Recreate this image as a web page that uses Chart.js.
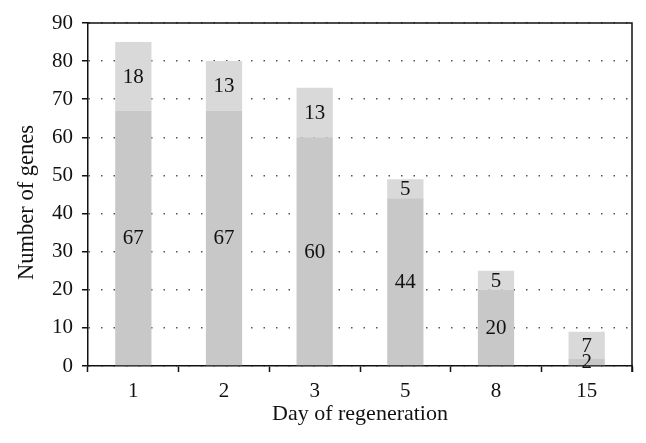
<!DOCTYPE html>
<html>
<head>
<meta charset="utf-8">
<script src="https://cdn.jsdelivr.net/npm/chart.js@4"></script>
<style>
  html, body { margin: 0; padding: 0; background: #fff; }
  #wrap { width: 646px; height: 443px; }
</style>
</head>
<body>
<div id="wrap"><canvas id="genesChart" width="646" height="443"></canvas></div>
<script>
const days = ['1', '2', '3', '5', '8', '15'];
const lowerCounts = [67, 67, 60, 44, 20, 2];
const upperCounts = [18, 13, 13, 5, 5, 7];
const yTicks = [0, 10, 20, 30, 40, 50, 60, 70, 80, 90];

const serif = "'Liberation Serif', 'DejaVu Serif', serif";

// numbers in the middle of each bar segment
const segmentLabels = {
    id: 'segmentLabels',
    afterDatasetsDraw(chart) {
        const ctx = chart.ctx;
        ctx.save();
        ctx.fillStyle = '#111';
        ctx.font = '21px ' + serif;
        ctx.textAlign = 'center';
        ctx.textBaseline = 'middle';
        chart.data.datasets.forEach((ds, i) => {
            chart.getDatasetMeta(i).data.forEach((bar, j) => {
                const midY = (bar.y + bar.base) / 2;
                ctx.fillText(String(ds.data[j]), bar.x, midY + 1);
            });
        });
        ctx.restore();
    }
};

// solid frame on top and right, plus the y title (sits a bit below centre in the original)
const frame = {
    id: 'frame',
    afterDraw(chart) {
        const a = chart.chartArea;
        const ctx = chart.ctx;
        ctx.save();
        ctx.strokeStyle = '#111';
        ctx.lineWidth = 1.5;
        ctx.beginPath();
        ctx.moveTo(a.left, a.top);
        ctx.lineTo(a.right, a.top);
        ctx.lineTo(a.right, a.bottom + 6);
        ctx.stroke();

        ctx.translate(27, (a.top + a.bottom) / 2 + 8);
        ctx.rotate(-Math.PI / 2);
        ctx.fillStyle = '#111';
        ctx.font = '22.5px ' + serif;
        ctx.textAlign = 'center';
        ctx.textBaseline = 'middle';
        ctx.fillText('Number of genes', 0, 0);
        ctx.restore();
    }
};

new Chart(document.getElementById('genesChart').getContext('2d'), {
    type: 'bar',
    data: {
        labels: days,
        datasets: [
            { label: 'lower', data: lowerCounts, backgroundColor: '#c8c8c8', barPercentage: 0.4, categoryPercentage: 1 },
            { label: 'upper', data: upperCounts, backgroundColor: '#d9d9d9', barPercentage: 0.4, categoryPercentage: 1 }
        ]
    },
    options: {
        responsive: false,
        animation: false,
        layout: { padding: { top: 23, right: 14, left: 8, bottom: 0 } },
        plugins: {
            legend: { display: false },
            tooltip: { enabled: false }
        },
        scales: {
            x: {
                stacked: true,
                afterFit: (s) => { s.height = 77; },
                grid: { offset: true, color: 'transparent', tickColor: '#111', tickLength: 6, tickWidth: 1.5 },
                border: { color: '#111', width: 1.5 },
                ticks: { color: '#111', font: { family: serif, size: 21 }, padding: 7 },
                title: { display: true, text: 'Day of regeneration', color: '#111', font: { family: serif, size: 22 }, padding: { top: 2, bottom: 16 } }
            },
            y: {
                stacked: true,
                min: 0,
                max: 90,
                afterFit: (s) => { s.width = 80; },
                afterBuildTicks: (s) => { s.ticks = yTicks.map(v => ({ value: v })); },
                grid: { color: '#555', lineWidth: 1.5, tickColor: '#111', tickLength: 6, tickWidth: 1.5 },
                border: { color: '#111', width: 1.5, dash: [1.5, 11] },
                ticks: { color: '#111', font: { family: serif, size: 21 }, padding: 9 },
                title: { display: false }
            }
        }
    },
    plugins: [segmentLabels, frame]
});
</script>
</body>
</html>
